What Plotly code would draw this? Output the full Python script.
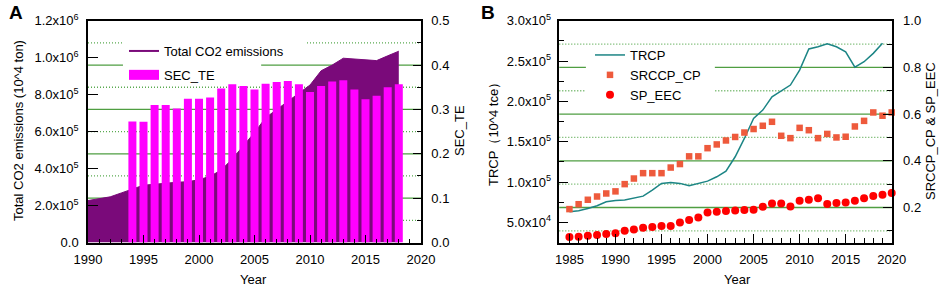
import plotly.graph_objects as go

# ---------------- Panel A data ----------------
years_a = list(range(1990, 2019))
total_co2 = [2.27e5, 2.37e5, 2.47e5, 2.68e5, 2.90e5,
             3.10e5, 3.15e5, 3.22e5, 3.26e5, 3.29e5,
             3.40e5, 3.58e5, 3.92e5, 4.52e5, 5.22e5,
             5.95e5, 6.75e5, 7.20e5, 7.60e5, 8.10e5,
             8.52e5, 9.29e5, 9.60e5, 9.97e5, 9.92e5,
             9.88e5, 9.84e5, 1.01e6, 1.035e6]
years_bar = list(range(1994, 2019))
sec_te = [0.273, 0.272, 0.310, 0.310, 0.302,
          0.324, 0.324, 0.327, 0.347, 0.357,
          0.353, 0.345, 0.358, 0.362, 0.364,
          0.357, 0.339, 0.353, 0.363, 0.366,
          0.345, 0.323, 0.331, 0.350, 0.357]
a_left_vals = [0, 2e5, 4e5, 6e5, 8e5, 1e6, 1.2e6]
a_left_text = ["0.0", "2.0x10<sup>5</sup>", "4.0x10<sup>5</sup>", "6.0x10<sup>5</sup>",
               "8.0x10<sup>5</sup>", "1.0x10<sup>6</sup>", "1.2x10<sup>6</sup>"]
a_x_ticks = [1990, 1995, 2000, 2005, 2010, 2015, 2020]
a_grid_major = [0.1, 0.2, 0.3, 0.4]
a_grid_minor = [0.05, 0.15, 0.25, 0.35, 0.45]

# ---------------- Panel B data ----------------
years_b = list(range(1985, 2021))
years_trcp = list(range(1985, 2020))
trcp = [63000, 64300, 67200, 70500, 75400,
        77200, 77600, 79700, 82500, 90000,
        98300, 99500, 98300, 95300, 98300,
        101100, 106500, 113500, 131300, 154000,
        178900, 189200, 205700, 213200, 220200,
        238800, 265000, 267700, 271500, 267700,
        261500, 242300, 249100, 259500, 272000]
srccp_cp = [0.193, 0.214, 0.233, 0.247, 0.260,
            0.269, 0.300, 0.324, 0.347, 0.347,
            0.347, 0.371, 0.386, 0.419, 0.419,
            0.454, 0.470, 0.487, 0.502, 0.521,
            0.536, 0.550, 0.567, 0.507, 0.497,
            0.541, 0.531, 0.497, 0.515, 0.500,
            0.503, 0.547, 0.571, 0.607, 0.593,
            0.607]
sp_eec = [0.074, 0.075, 0.079, 0.082, 0.086,
          0.090, 0.100, 0.106, 0.113, 0.116,
          0.121, 0.121, 0.136, 0.146, 0.157,
          0.179, 0.182, 0.185, 0.187, 0.189,
          0.190, 0.203, 0.217, 0.217, 0.204,
          0.229, 0.233, 0.240, 0.215, 0.219,
          0.221, 0.229, 0.239, 0.249, 0.254,
          0.262]
b_left_vals = [50000, 100000, 150000, 200000, 250000, 300000]
b_left_text = ["5.0x10<sup>4</sup>", "1.0x10<sup>5</sup>", "1.5x10<sup>5</sup>",
               "2.0x10<sup>5</sup>", "2.5x10<sup>5</sup>", "3.0x10<sup>5</sup>"]
b_x_ticks = [1985, 1990, 1995, 2000, 2005, 2010, 2015, 2020]
b_grid_major = [0.2, 0.4, 0.6, 0.8]
b_grid_minor = [0.1, 0.3, 0.5, 0.7, 0.9]

# ---------------- styles ----------------
FONT = "Liberation Sans, Arial, sans-serif"
PURPLE = "#7a0a7a"
MAGENTA = "#ff00ff"
TEAL = "#1c8585"
ORANGE = "#ee5a3c"
RED = "#ff0000"
GREEN = "#4f9e42"
GREEN_DOT = "#5aaa50"
DOT = "1px,2px"
W, H = 941, 287

fig = go.Figure()

# Panel A
fig.add_trace(go.Scatter(x=years_a, y=total_co2, mode="lines", fill="tozeroy",
                         line=dict(color=PURPLE, width=1), fillcolor=PURPLE,
                         xaxis="x", yaxis="y", showlegend=False,
                         name="Total CO2 emissions"))
fig.add_trace(go.Bar(x=years_bar, y=sec_te, width=0.72, marker=dict(color=MAGENTA, line=dict(width=0)),
                     xaxis="x", yaxis="y2", showlegend=False, name="SEC_TE"))
fig.add_trace(go.Scatter(x=[None], y=[None], mode="lines", line=dict(color=PURPLE, width=2),
                         name="Total CO2 emissions", legend="legend", legendgroup="a1",
                         xaxis="x", yaxis="y"))
fig.add_trace(go.Scatter(x=[None], y=[None], mode="lines", line=dict(color=MAGENTA, width=12),
                         name="SEC_TE", legend="legend", legendgroup="a2",
                         xaxis="x", yaxis="y"))

# Panel B
fig.add_trace(go.Scatter(x=years_trcp, y=trcp, mode="lines", line=dict(color=TEAL, width=1.5),
                         name="TRCP", xaxis="x2", yaxis="y3", legend="legend2"))
fig.add_trace(go.Scatter(x=years_b, y=srccp_cp, mode="markers",
                         marker=dict(symbol="square", size=6.5, color=ORANGE),
                         name="SRCCP_CP", xaxis="x2", yaxis="y4", legend="legend2", cliponaxis=False))
fig.add_trace(go.Scatter(x=years_b, y=sp_eec, mode="markers",
                         marker=dict(symbol="circle", size=8, color=RED),
                         name="SP_EEC", xaxis="x2", yaxis="y4", legend="legend2", cliponaxis=False))

ydom = [1 - 242.5 / H, 1 - 20.7 / H]
tickfont = dict(family=FONT, size=13, color="black")
axis_common = dict(showline=True, linecolor="black", linewidth=1.5, ticks="inside",
                   tickcolor="black", tickwidth=1.3, zeroline=False, showgrid=False,
                   automargin=False, tickfont=tickfont)

fig.update_layout(
    width=W, height=H,
    margin=dict(l=0, r=0, t=0, b=0, pad=0),
    paper_bgcolor="white", plot_bgcolor="white",
    font=dict(family=FONT, size=13, color="black"),
    barmode="overlay",
    xaxis=dict(domain=[88 / W, 421 / W], range=[1990, 2020], anchor="y",
               tickmode="array", tickvals=a_x_ticks, ticklen=8, mirror=True, ticklabelstandoff=4,
               minor=dict(dtick=1, tick0=1990, ticks="inside", ticklen=4, tickcolor="black",
                          showgrid=False),
               **axis_common),
    yaxis=dict(domain=ydom, range=[0, 1.2e6], anchor="x", tickmode="array",
               tickvals=a_left_vals, ticktext=a_left_text, ticklen=10, ticklabelstandoff=5,
               **axis_common),
    yaxis2=dict(overlaying="y", side="right", anchor="x", range=[0, 0.5],
                tickmode="linear", tick0=0, dtick=0.1, tickformat=".1f", ticklen=8,
                ticklabelstandoff=6,
                minor=dict(dtick=0.05, tick0=0, ticks="inside", ticklen=4, tickcolor="black",
                           showgrid=False),
                **axis_common),
    xaxis2=dict(domain=[559.3 / W, 891.7 / W], range=[1983.9, 2020], anchor="y3",
                tickmode="array", tickvals=b_x_ticks, ticklen=9, mirror=True, ticklabelstandoff=4,
                minor=dict(dtick=1, tick0=1985, ticks="inside", ticklen=5, tickcolor="black",
                           showgrid=False),
                **axis_common),
    yaxis3=dict(domain=ydom, range=[25000, 300000], anchor="x2", tickmode="array",
                tickvals=b_left_vals, ticktext=b_left_text, ticklen=9, ticklabelstandoff=4,
                minor=dict(dtick=25000, tick0=0, ticks="inside", ticklen=5, tickcolor="black",
                           showgrid=False),
                **axis_common),
    yaxis4=dict(overlaying="y3", side="right", anchor="x2", range=[0.05, 1.0],
                tickmode="linear", tick0=0, dtick=0.2, tickformat=".1f", ticklen=9,
                ticklabelstandoff=7,
                minor=dict(dtick=0.1, tick0=0, ticks="inside", ticklen=5, tickcolor="black",
                           showgrid=False),
                **axis_common),
    legend=dict(x=124 / W, y=1 - 36 / H, xanchor="left", yanchor="top",
                bgcolor="rgba(255,255,255,0)", borderwidth=0, tracegroupgap=4,
                font=dict(family=FONT, size=13, color="black"), itemwidth=30),
    legend2=dict(x=590 / W, y=1 - 40 / H, xanchor="left", yanchor="top",
                 bgcolor="rgba(255,255,255,0)", borderwidth=0,
                 font=dict(family=FONT, size=13, color="black"), itemwidth=30),
)

# gridlines (solid at major ticks, dotted at minor ticks of the right-hand axes), below the data
shapes = []
for v in a_grid_major:
    shapes.append(dict(type="line", xref="x domain", yref="y2", x0=0, x1=1, y0=v, y1=v,
                       layer="below", line=dict(color=GREEN, width=1.3)))
for v in a_grid_minor:
    shapes.append(dict(type="line", xref="x domain", yref="y2", x0=0, x1=1, y0=v, y1=v,
                       layer="below", line=dict(color=GREEN_DOT, width=1.3, dash=DOT)))
for v in b_grid_major:
    shapes.append(dict(type="line", xref="x2 domain", yref="y4", x0=0, x1=1, y0=v, y1=v,
                       layer="below", line=dict(color=GREEN, width=1.3)))
for v in b_grid_minor:
    shapes.append(dict(type="line", xref="x2 domain", yref="y4", x0=0, x1=1, y0=v, y1=v,
                       layer="below", line=dict(color=GREEN_DOT, width=1.3, dash=DOT)))

# white backing behind the legends (hides gridlines only, data drawn above)
mask_style = dict(type="rect", layer="below", fillcolor="white", line=dict(width=0))
shapes.append(dict(xref="x domain", yref="y2", x0=0.105, x1=0.652, y0=0.436, y1=0.462, **mask_style))
shapes.append(dict(xref="x domain", yref="y2", x0=0.105, x1=0.520, y0=0.37, y1=0.437, **mask_style))
shapes.append(dict(xref="x2 domain", yref="y4", x0=0.080, x1=0.468, y0=0.645, y1=0.875, **mask_style))
fig.update_layout(shapes=shapes)

annotations = [
    dict(text="<b>A</b>", x=7 / W, y=1 - 13 / H, xref="paper", yref="paper",
         showarrow=False, xanchor="left", yanchor="middle", font=dict(size=19, family=FONT)),
    dict(text="<b>B</b>", x=479 / W, y=1 - 13 / H, xref="paper", yref="paper",
         showarrow=False, xanchor="left", yanchor="middle", font=dict(size=19, family=FONT)),
    dict(text="Total CO2 emissions (10^4 ton)", x=18 / W, y=1 - 131 / H, xref="paper", yref="paper",
         showarrow=False, textangle=-90, xanchor="center", yanchor="middle", font=dict(size=13, family=FONT)),
    dict(text="SEC_TE", x=459 / W, y=1 - 131 / H, xref="paper", yref="paper",
         showarrow=False, textangle=-90, xanchor="center", yanchor="middle", font=dict(size=13, family=FONT)),
    dict(text="Year", x=254 / W, y=1 - 279 / H, xref="paper", yref="paper",
         showarrow=False, xanchor="center", yanchor="middle", font=dict(size=13, family=FONT)),
    dict(text="TRCP（10^4 tce）", x=493 / W, y=1 - 131 / H, xref="paper", yref="paper",
         showarrow=False, textangle=-90, xanchor="center", yanchor="middle", font=dict(size=13, family=FONT)),
    dict(text="SRCCP_CP & SP_EEC", x=930 / W, y=1 - 131 / H, xref="paper", yref="paper",
         showarrow=False, textangle=-90, xanchor="center", yanchor="middle", font=dict(size=13, family=FONT)),
    dict(text="Year", x=737 / W, y=1 - 279 / H, xref="paper", yref="paper",
         showarrow=False, xanchor="center", yanchor="middle", font=dict(size=13, family=FONT)),
]
fig.update_layout(annotations=annotations)

fig.write_html("out.html", config={"displayModeBar": False},
               post_script="document.body.style.margin='0';document.body.style.overflow='hidden';")
